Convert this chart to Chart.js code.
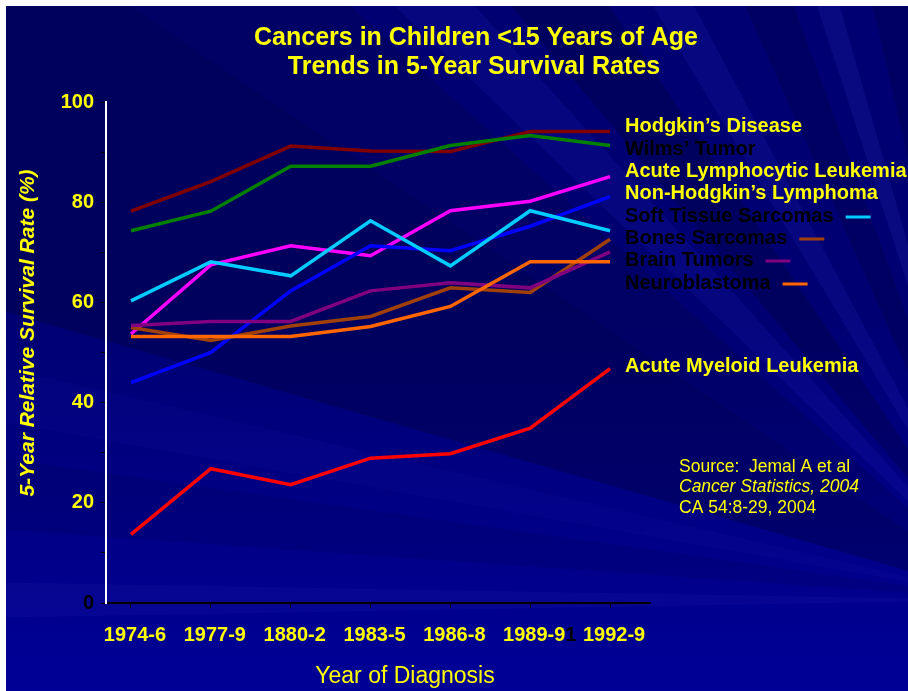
<!DOCTYPE html>
<html><head><meta charset="utf-8">
<script src="https://cdn.jsdelivr.net/npm/chart.js@4/dist/chart.umd.min.js"></script>
<style>html,body{margin:0;padding:0;background:#fff;overflow:hidden}canvas{display:block}</style>
</head><body>
<canvas id="c" width="908" height="691"></canvas>
<script>
// ---- data ----
const categories = ["1974-6", "1977-9", "1880-2", "1983-5", "1986-8", "1989-91", "1992-9"];
const yTicks = [0, 20, 40, 60, 80, 100];
const seriesNames = ["Hodgkin\u2019s Disease", "Wilms\u2019 Tumor", "Acute Lymphocytic Leukemia", "Non-Hodgkin\u2019s Lymphoma",
  "Soft Tissue Sarcomas", "Bones Sarcomas", "Brain Tumors", "Neuroblastoma", "Acute Myeloid Leukemia"];
const hodgkin    = [78.2, 84.1, 91.2, 90.2, 90.1, 94.1, 94.1];
const wilms      = [74.3, 78.2, 87.2, 87.2, 91.3, 93.3, 91.3];
const allLeuk    = [53.7, 67.5, 71.3, 69.3, 78.3, 80.2, 85.1];
const nhl        = [44.0, 50.0, 62.3, 71.3, 70.3, 75.2, 81.1];
const softTissue = [60.3, 68.1, 65.3, 76.3, 67.3, 78.3, 74.3];
const bones      = [55.0, 52.4, 55.3, 57.2, 62.9, 62.0, 72.6];
const brain      = [55.4, 56.2, 56.2, 62.3, 63.9, 62.9, 70.1];
const neuro      = [53.2, 53.2, 53.2, 55.2, 59.2, 68.1, 68.1];
const aml        = [13.7, 26.8, 23.6, 28.9, 29.8, 34.9, 46.8];
const seriesValues = [hodgkin, wilms, allLeuk, nhl, softTissue, bones, brain, neuro, aml];

// ---- styles ----
const lineColors = ["#800000", "#008000", "#FF00FF", "#0000FF", "#00CCFF", "#A0400A", "#800080", "#FF6600", "#FF0000"];
const labelColors = ["#FFFF00", "#000000", "#FFFF00", "#FFFF00", "#000000", "#000000", "#000000", "#000000", "#FFFF00"];
const labelY = [126, 149, 171, 193, 216, 238, 260, 283, 366];
const labelSwatch = [false, false, false, false, true, true, true, true, false];
const YELLOW = "#FFFF00";
const FONT = "'Liberation Sans', Arial, sans-serif";

const bgPlugin = {
  id: 'bg',
  beforeDraw(chart) {
    const ctx = chart.ctx;
    ctx.save();
    ctx.fillStyle = '#fff';
    ctx.fillRect(0, 0, 908, 691);
    const g = ctx.createLinearGradient(0, 6, 0, 691);
    g.addColorStop(0, '#000072');
    g.addColorStop(0.45, '#000072');
    g.addColorStop(1, '#000096');
    ctx.fillStyle = g;
    ctx.fillRect(6, 6, 902, 685);
    ctx.beginPath(); ctx.rect(6, 6, 902, 685); ctx.clip();
    const fx = 1010, fy = 600, R = 2500;
    const rays = [
      [196, 214, 'rgba(0,0,40,0.28)'],
      [214, 222, 'rgba(0,0,30,0.15)'],
      [224, 228, 'rgba(70,70,255,0.09)'],
      [230, 236, 'rgba(0,0,40,0.25)'],
      [239, 242, 'rgba(70,70,255,0.10)'],
      [246, 250, 'rgba(0,0,40,0.22)'],
      [252, 254, 'rgba(90,90,255,0.10)'],
      [257, 262, 'rgba(0,0,40,0.20)'],
      [179, 181, 'rgba(120,120,255,0.05)'],
      [184, 188, 'rgba(0,0,40,0.10)'],
      [190, 193, 'rgba(70,70,255,0.04)']
    ];
    for (const [a1, a2, col] of rays) {
      const r1 = a1 * Math.PI / 180, r2 = a2 * Math.PI / 180;
      ctx.beginPath();
      ctx.moveTo(fx, fy);
      ctx.lineTo(fx + R * Math.cos(r1), fy + R * Math.sin(r1));
      ctx.lineTo(fx + R * Math.cos(r2), fy + R * Math.sin(r2));
      ctx.closePath();
      ctx.fillStyle = col;
      ctx.fill();
    }
    ctx.restore();
  }
};

const textPlugin = {
  id: 'texts',
  afterDraw(chart) {
    const ctx = chart.ctx;
    ctx.save();
    // title
    ctx.fillStyle = YELLOW;
    ctx.textAlign = 'center';
    ctx.textBaseline = 'middle';
    ctx.font = `bold 25px ${FONT}`;
    ctx.fillText("Cancers in Children <15 Years of Age", 476, 38);
    ctx.fillText("Trends in 5-Year Survival Rates", 474, 67);

    // x tick labels
    const xs = chart.scales.x;
    ctx.font = `bold 20px ${FONT}`;
    ctx.textAlign = 'left';
    categories.forEach((lab, i) => {
      const px = xs.getPixelForValue(i) + 4;
      const main = lab.slice(0, 6), rest = lab.slice(6);
      const w = ctx.measureText(main).width;
      ctx.fillStyle = YELLOW;
      ctx.fillText(main, px - w / 2, 635);
      if (rest) { ctx.fillStyle = '#000'; ctx.fillText(rest, px + w / 2, 635); }
    });

    // x title
    ctx.textAlign = 'center';
    ctx.fillStyle = YELLOW;
    ctx.font = `23px ${FONT}`;
    ctx.fillText("Year of Diagnosis", 405, 677);

    // y title
    ctx.save();
    ctx.translate(28, 333);
    ctx.rotate(-Math.PI / 2);
    ctx.font = `italic bold 21px ${FONT}`;
    ctx.fillText("5-Year Relative Survival Rate (%)", 0, 0);
    ctx.restore();

    // series labels
    ctx.textAlign = 'left';
    ctx.font = `bold 20px ${FONT}`;
    seriesNames.forEach((name, i) => {
      ctx.fillStyle = labelColors[i];
      ctx.fillText(name, 625, labelY[i]);
      if (labelSwatch[i]) {
        const w = ctx.measureText(name).width;
        ctx.strokeStyle = lineColors[i];
        ctx.lineWidth = 3;
        ctx.beginPath();
        ctx.moveTo(625 + w + 12, labelY[i] + 1);
        ctx.lineTo(625 + w + 37, labelY[i] + 1);
        ctx.stroke();
      }
    });

    // source
    ctx.fillStyle = YELLOW;
    ctx.font = `17.5px ${FONT}`;
    ctx.fillText("Source:  Jemal A et al", 679, 467);
    ctx.font = `italic 17.5px ${FONT}`;
    ctx.fillText("Cancer Statistics, 2004", 679, 487);
    ctx.font = `17.5px ${FONT}`;
    ctx.fillText("CA 54:8-29, 2004", 679, 508);
    ctx.restore();
  }
};

const datasets = seriesValues.map((vals, i) => ({
  label: seriesNames[i],
  data: vals.map((v, k) => ({ x: k, y: v })),
  borderColor: lineColors[i],
  backgroundColor: lineColors[i],
  borderWidth: 3.5,
  pointRadius: 0,
  tension: 0,
  fill: false,
  clip: false,
  order: seriesValues.length - i
}));

new Chart(document.getElementById('c'), {
  type: 'line',
  data: { datasets },
  options: {
    responsive: false,
    animation: false,
    devicePixelRatio: 1,
    layout: { padding: { top: 102, right: 258, left: 0, bottom: 0 } },
    plugins: { legend: { display: false }, tooltip: { enabled: false }, title: { display: false } },
    scales: {
      x: {
        type: 'linear',
        min: -0.313, max: 6.5,
        afterFit(s) { s.height = 88; },
        afterBuildTicks(s) { s.ticks = categories.map((c, i) => ({ value: i })); },
        ticks: { display: false },
        grid: { drawOnChartArea: false, drawTicks: true, tickLength: 5, color: '#000' },
        border: { color: '#000', width: 2 }
      },
      y: {
        min: 0, max: 100,
        afterFit(s) { s.width = 106; },
        afterBuildTicks(s) {
          const t = [];
          for (let v = 0; v <= 100; v += 10) t.push({ value: v });
          s.ticks = t;
        },
        ticks: {
          padding: 7,
          autoSkip: false,
          color: c => (c.tick && c.tick.value === 0) ? '#000' : YELLOW,
          font: { family: FONT, weight: 'bold', size: 20 },
          callback: v => yTicks.includes(v) ? String(v) : ''
        },
        grid: { drawOnChartArea: false, drawTicks: true, tickLength: 5, color: '#000' },
        border: { color: '#fff', width: 2 }
      }
    }
  },
  plugins: [bgPlugin, textPlugin]
});
</script>
</body></html>
